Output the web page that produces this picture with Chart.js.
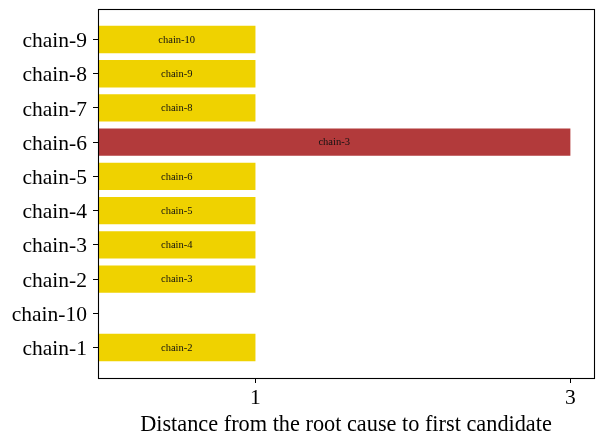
<!DOCTYPE html>
<html>
<head>
<meta charset="utf-8">
<script src="https://cdn.jsdelivr.net/npm/chart.js@4/dist/chart.umd.min.js"></script>
<style>
  html, body { margin: 0; padding: 0; background: #fff; }
  #wrap { width: 603px; height: 444px; }
</style>
</head>
<body>
<div id="wrap"><canvas id="c" width="603" height="444"></canvas></div>
<script>
const categories = ['chain-1','chain-10','chain-2','chain-3','chain-4','chain-5','chain-6','chain-7','chain-8','chain-9'];
const values = [1, 0, 1, 1, 1, 1, 3, 1, 1, 1];
const barLabels = ['chain-2','','chain-3','chain-4','chain-5','chain-6','chain-3','chain-8','chain-9','chain-10'];
const xTickValues = [1, 3];
const xTitle = 'Distance from the root cause to first candidate';

const YELLOW = '#EFD200';
const RED = '#B23A3B';
const colors = values.map(v => v === 3 ? RED : YELLOW);
const FONT = "'Liberation Serif', 'Times New Roman', serif";

const frame = {
  id: 'frame',
  afterDraw(chart) {
    const a = chart.chartArea, ctx = chart.ctx;
    ctx.save();
    ctx.strokeStyle = '#000';
    ctx.lineWidth = 1.1;
    ctx.strokeRect(Math.round(a.left) + 0.5, Math.round(a.top) + 0.5,
                   Math.round(a.right - a.left), Math.round(a.bottom - a.top));
    ctx.restore();
  }
};

const barText = {
  id: 'barText',
  afterDatasetsDraw(chart) {
    const ctx = chart.ctx;
    const meta = chart.getDatasetMeta(0);
    ctx.save();
    ctx.font = "10.5px " + FONT;
    ctx.fillStyle = '#111';
    ctx.textAlign = 'center';
    ctx.textBaseline = 'middle';
    meta.data.forEach((bar, i) => {
      if (!barLabels[i] || !values[i]) return;
      const p = bar.getProps(['x', 'y', 'base'], true);
      ctx.fillText(barLabels[i], (p.x + p.base) / 2, p.y + 0.5);
    });
    ctx.restore();
  }
};

new Chart(document.getElementById('c'), {
  type: 'bar',
  data: {
    datasets: [{
      data: values.map((v, i) => ({ x: v, y: i })),
      backgroundColor: colors,
      borderWidth: 0,
      categoryPercentage: 1.0,
      barPercentage: 0.8
    }]
  },
  options: {
    indexAxis: 'y',
    responsive: false,
    animation: false,
    events: [],
    layout: { padding: { left: 0, right: 9, top: 9, bottom: 0 } },
    plugins: { legend: { display: false }, tooltip: { enabled: false } },
    scales: {
      x: {
        type: 'linear',
        min: 0,
        max: 3.15,
        afterBuildTicks(scale) { scale.ticks = xTickValues.map(v => ({ value: v })); },
        afterFit(scale) { scale.height = 66; },
        grid: { drawOnChartArea: false, drawTicks: true, tickLength: 5, color: '#000', lineWidth: 1 },
        border: { display: false },
        ticks: { color: '#000', font: { family: FONT, size: 21.5 }, padding: 2, maxRotation: 0,
                 callback: v => String(v) },
        title: { display: true, text: xTitle, color: '#000', font: { family: FONT, size: 22.3 },
                 padding: { top: 0, bottom: 5 } }
      },
      y: {
        type: 'linear',
        offset: false,
        min: -0.89,
        max: 9.89,
        afterBuildTicks(scale) { scale.ticks = categories.map((c, i) => ({ value: i })); },
        afterFit(scale) { scale.width = 98; scale.paddingTop = 0; scale.paddingBottom = 0; },
        grid: { offset: false, drawOnChartArea: false, drawTicks: true, tickLength: 5, color: '#000', lineWidth: 1 },
        border: { display: false },
        ticks: { color: '#000', font: { family: FONT, size: 21.5 }, padding: 6, labelOffset: 2,
                 callback: v => categories[v] }
      }
    }
  },
  plugins: [frame, barText]
});
</script>
</body>
</html>
